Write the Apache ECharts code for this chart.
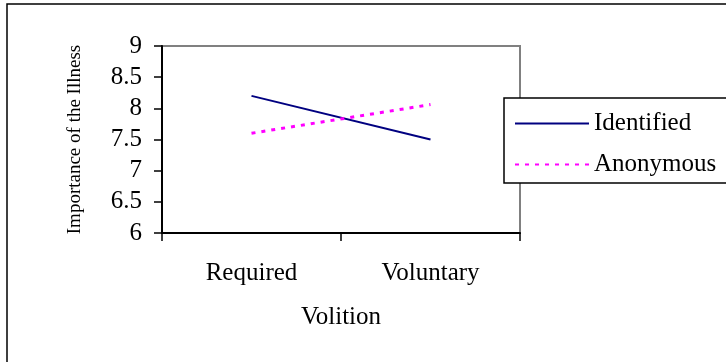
<!DOCTYPE html>
<html>
<head>
<meta charset="utf-8">
<script src="https://cdn.jsdelivr.net/npm/echarts@6/dist/echarts.min.js"></script>
<style>
  html, body { margin: 0; padding: 0; background: #fff; }
  #chart { width: 726px; height: 362px; }
</style>
</head>
<body>
<div id="chart"></div>
<script>
var categories = ['Required', 'Voluntary']
var identified = [8.2, 7.5]
var anonymous = [7.6, 8.06]
var yTicks = [6, 6.5, 7, 7.5, 8, 8.5, 9]

var serif = '"Liberation Serif", "Times New Roman", serif'
var chart = echarts.init(document.getElementById('chart'))

chart.setOption({
  backgroundColor: '#fff',
  animation: false,
  graphic: [{
    type: 'rect',
    shape: { x: 7, y: 4, width: 800, height: 400 },
    style: { fill: 'none', stroke: '#000', lineWidth: 1.5 },
    z: 0
  }],
  grid: {
    left: 162, right: 206, top: 46, bottom: 129,
    show: true, borderColor: '#808080', borderWidth: 2, backgroundColor: 'transparent'
  },
  legend: {
    orient: 'vertical',
    left: 504, top: 98,
    padding: [13, 60, 6, 10],
    itemGap: 16,
    itemWidth: 74,
    itemHeight: 25,
    backgroundColor: '#fff',
    borderColor: '#000',
    borderWidth: 1.5,
    itemStyle: { opacity: 0 },
    lineStyle: { opacity: 1 },
    textStyle: { fontFamily: serif, fontSize: 25, color: '#000', padding: [0, 0, 0, 0] },
    data: ['Identified', 'Anonymous']
  },
  xAxis: {
    type: 'category',
    data: categories,
    boundaryGap: true,
    name: 'Volition',
    nameLocation: 'middle',
    nameGap: 72,
    nameTextStyle: { fontFamily: serif, fontSize: 25, color: '#000' },
    axisLine: { lineStyle: { color: '#000', width: 2 } },
    axisTick: { show: true, length: 8, inside: false, lineStyle: { color: '#000', width: 1.5 } },
    axisLabel: { fontFamily: serif, fontSize: 25, color: '#000', margin: 28 }
  },
  yAxis: {
    type: 'value',
    min: yTicks[0],
    max: yTicks[yTicks.length - 1],
    interval: 0.5,
    name: 'Importance of the Illness',
    nameLocation: 'middle',
    nameGap: 77,
    nameTextStyle: { fontFamily: serif, fontSize: 19, color: '#000' },
    axisLine: { show: true, lineStyle: { color: '#000', width: 2 } },
    axisTick: { show: true, length: 8, lineStyle: { color: '#000', width: 1.5 } },
    axisLabel: { fontFamily: serif, fontSize: 25, color: '#000', margin: 20 },
    splitLine: { show: false }
  },
  series: [
    {
      name: 'Identified',
      type: 'line',
      data: identified,
      symbol: 'none',
      lineStyle: { color: '#000080', width: 2 },
      itemStyle: { color: '#000080' }
    },
    {
      name: 'Anonymous',
      type: 'line',
      data: anonymous,
      symbol: 'none',
      lineStyle: { color: '#ff00ff', width: 3, type: [4, 6] },
      itemStyle: { color: '#ff00ff' }
    }
  ]
})
</script>
</body>
</html>
